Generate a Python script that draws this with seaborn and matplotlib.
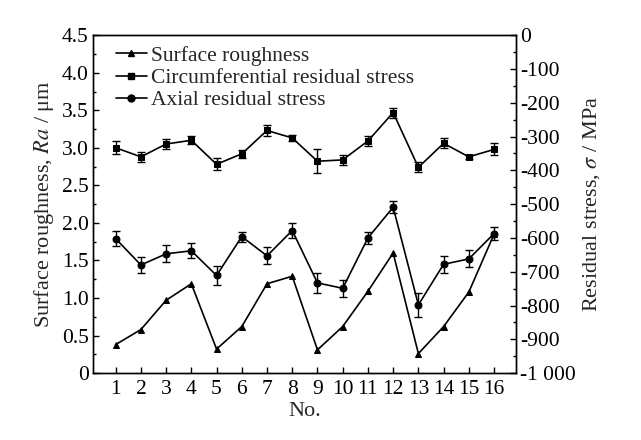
import matplotlib
matplotlib.use("Agg")
import matplotlib.pyplot as plt
from matplotlib.ticker import MultipleLocator
import seaborn as sns
import pandas as pd

sns.set_theme(style="ticks")
plt.rcParams['font.family'] = ['Liberation Serif', 'DejaVu Serif']
plt.rcParams['mathtext.fontset'] = 'stix'

no = list(range(1, 17))
roughness = [0.38, 0.58, 0.97, 1.19, 0.32, 0.62, 1.19, 1.29, 0.31, 0.62, 1.09, 1.60, 0.26, 0.62, 1.08, 1.85]
circ = [-333, -360, -322, -311, -382, -351, -282, -304, -373, -369, -313, -229, -391, -320, -360, -338]
circ_err = [20, 15, 15, 12, 18, 12, 15, 10, 35, 15, 15, 15, 15, 15, 5, 18]
axial = [-602, -680, -647, -638, -711, -596, -653, -578, -733, -749, -600, -509, -798, -678, -662, -587]
axial_err = [22, 25, 25, 22, 28, 15, 25, 22, 30, 25, 18, 18, 35, 25, 25, 20]

df = pd.DataFrame({"no": no, "ra": roughness, "circ": circ, "axial": axial})

fig = plt.figure(figsize=(6.41, 4.40), dpi=100)
ax = fig.add_axes([0.145, 0.152, 0.66, 0.768])
ax2 = ax.twinx()

kw = dict(color="black", linewidth=1.2, markersize=5)
sns.lineplot(data=df, x="no", y="ra", ax=ax, marker="^", markeredgecolor="black", legend=False, **kw)
sns.lineplot(data=df, x="no", y="circ", ax=ax2, marker="s", markeredgecolor="black", legend=False, **kw)
sns.lineplot(data=df, x="no", y="axial", ax=ax2, marker="o", markeredgecolor="black", legend=False, **kw)
ax2.errorbar(no, circ, yerr=circ_err, fmt="none", ecolor="black", capsize=3, elinewidth=1)
ax2.errorbar(no, axial, yerr=axial_err, fmt="none", ecolor="black", capsize=3, elinewidth=1)
l1, = ax.plot([], [], marker="^", label="Surface roughness", **kw)
l2, = ax.plot([], [], marker="s", label="Circumferential residual stress", **kw)
l3, = ax.plot([], [], marker="o", label="Axial residual stress", **kw)

ax.set_xlim(0.1, 16.87)
ax.set_ylim(0, 4.5)
ax2.set_ylim(-1000, 0)
ax.set_xticks(no)
ax.set_yticks([0, 0.5, 1, 1.5, 2, 2.5, 3, 3.5, 4, 4.5])
ax.set_yticklabels(["0", "0.5", "1.0", "1.5", "2.0", "2.5", "3.0", "3.5", "4.0", "4.5"])
ax.yaxis.set_minor_locator(MultipleLocator(0.25))
rt = list(range(-1000, 1, 100))
ax2.set_yticks(rt)
ax2.set_yticklabels(["-1 000" if v == -1000 else str(v) for v in rt])
ax2.yaxis.set_minor_locator(MultipleLocator(50))
for a in (ax, ax2):
    a.tick_params(which="both", direction="in", labelsize=15.5, colors="black", width=1, length=4, pad=3)
    a.tick_params(which="minor", length=2.5)
    for s in a.spines.values():
        s.set_color("black"); s.set_linewidth(1)
ax.tick_params(axis="x", pad=5)
ax.set_xlabel("No.", fontsize=16, labelpad=2)
ax.set_ylabel("Surface roughness, $\\mathit{Ra}$ / μm", fontsize=16)
ax2.set_ylabel("Residual stress, $\\sigma$ / MPa", fontsize=16)
ax.legend(handles=[l1, l2, l3], loc="upper left", frameon=False, fontsize=15.5,
          handlelength=1.4, handletextpad=0.2, borderaxespad=0.1, labelspacing=0.1,
          bbox_to_anchor=(0.03, 1.0))
fig.savefig("out.png", dpi=100)
